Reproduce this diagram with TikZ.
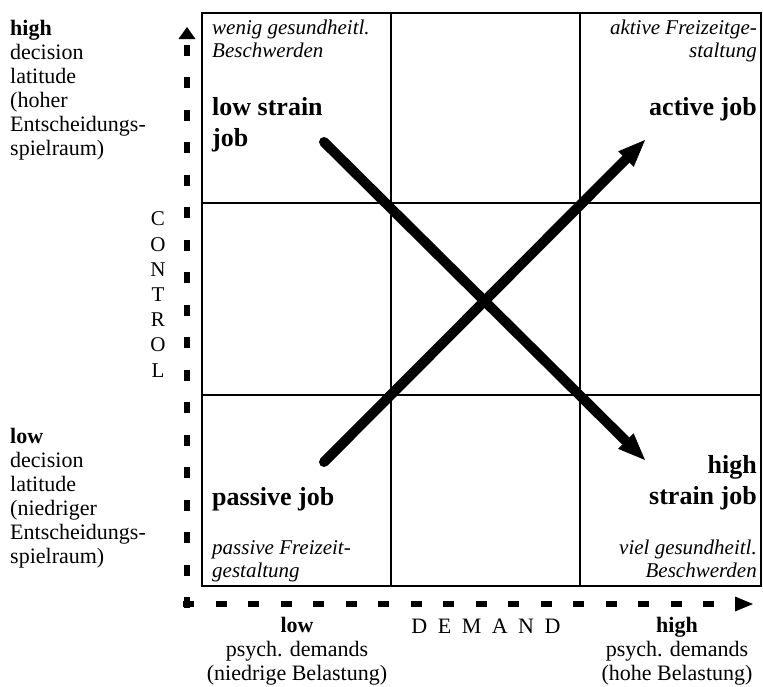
\documentclass[tikz,border=0pt]{standalone}
\usepackage{fontspec}
\setmainfont{Liberation Serif}
\usetikzlibrary{arrows.meta}
\begin{document}
\begin{tikzpicture}[x=1pt,y=-1pt,
  lbl/.style={inner sep=0pt, font=\fontsize{22}{24}\selectfont},
  qit/.style={inner sep=0pt, font=\fontsize{21}{23}\selectfont\itshape},
  qbf/.style={inner sep=0pt, font=\fontsize{26}{31}\selectfont\bfseries},
  letter/.style={inner sep=0pt, font=\fontsize{21}{24}\selectfont},
  frame/.style={line width=2.5pt},
  gridline/.style={line width=2pt},
  bigarrow/.style={line width=10pt, line cap=round, -{Triangle[length=27pt,width=22pt,line width=0pt]}},
  axis/.style={line width=6pt, dash pattern=on 11pt off 21.5pt}
]
\useasboundingbox (0,0) rectangle (763,686);

% frame and grid
\coordinate (tl) at (202,13);
\coordinate (br) at (761,586);
\draw[frame] (tl) rectangle (br);
\draw[gridline] (391,13) -- (391,586);
\draw[gridline] (580,13) -- (580,586);
\draw[gridline] (202,203) -- (761,203);
\draw[gridline] (202,395) -- (761,395);

% axes
\coordinate (corner) at (187,608);
\coordinate (ytip) at (187,27);
\coordinate (hcorner) at (183,604);
\coordinate (xtip) at (753,604);
\draw[axis, -{Triangle[length=12pt,width=17pt,line width=0pt]}] (corner) -- (ytip);
\draw[axis, -{Triangle[length=18pt,width=15pt,line width=0pt]}] (hcorner) -- (xtip);

% big arrows
\coordinate (s1) at (324,142);
\coordinate (e1) at (645,460);
\coordinate (s2) at (324,462);
\coordinate (e2) at (645,140);
\draw[bigarrow] (s1) -- (e1);
\draw[bigarrow] (s2) -- (e2);

% left labels
\node[lbl, anchor=north west, align=left] (hdl) at (10,20)
  {\textbf{high}\\decision\\latitude\\(hoher\\Entscheidungs-\\spielraum)};
\node[lbl, anchor=north west, align=left] (ldl) at (10,428)
  {\textbf{low}\\decision\\latitude\\(niedriger\\Entscheidungs-\\spielraum)};

% CONTROL
\foreach \ch [count=\i from 0] in {C,O,N,T,R,O,L}
  \node[letter] (ctl\i) at (158,{219+25.2*\i}) {\ch};

% bottom labels
\node[lbl, anchor=north, align=center] (ld) at (297,617)
  {\textbf{low}\\psych. demands\\(niedrige Belastung)};
\node[lbl, anchor=north, align=center] (hd) at (677,617)
  {\textbf{high}\\psych. demands\\(hohe Belastung)};
\node[lbl, anchor=base] (dem) at (486,633)
  {D\hspace{10.5pt}E\hspace{10.5pt}M\hspace{10.5pt}A\hspace{10.5pt}N\hspace{10.5pt}D};

% quadrant texts
\node[qit, anchor=north west, align=left] (q1) at (212,20)
  {wenig gesundheitl.\\Beschwerden};
\node[qit, anchor=north east, align=right] (q2) at (757,20)
  {aktive Freizeitge-\\staltung};
\node[qbf, anchor=north west, align=left] (lsj) at (212,97)
  {low strain\\job};
\node[qbf, anchor=north east] (aj) at (757,97) {active job};
\node[qbf, anchor=north east, align=right] (hsj) at (757,455)
  {high\\strain job};
\node[qbf, anchor=north west] (pj) at (212,487) {passive job};
\node[qit, anchor=north west, align=left] (q3) at (212,540)
  {passive Freizeit-\\gestaltung};
\node[qit, anchor=north east, align=right] (q4) at (757,540)
  {viel gesundheitl.\\Beschwerden};
\end{tikzpicture}
\end{document}
